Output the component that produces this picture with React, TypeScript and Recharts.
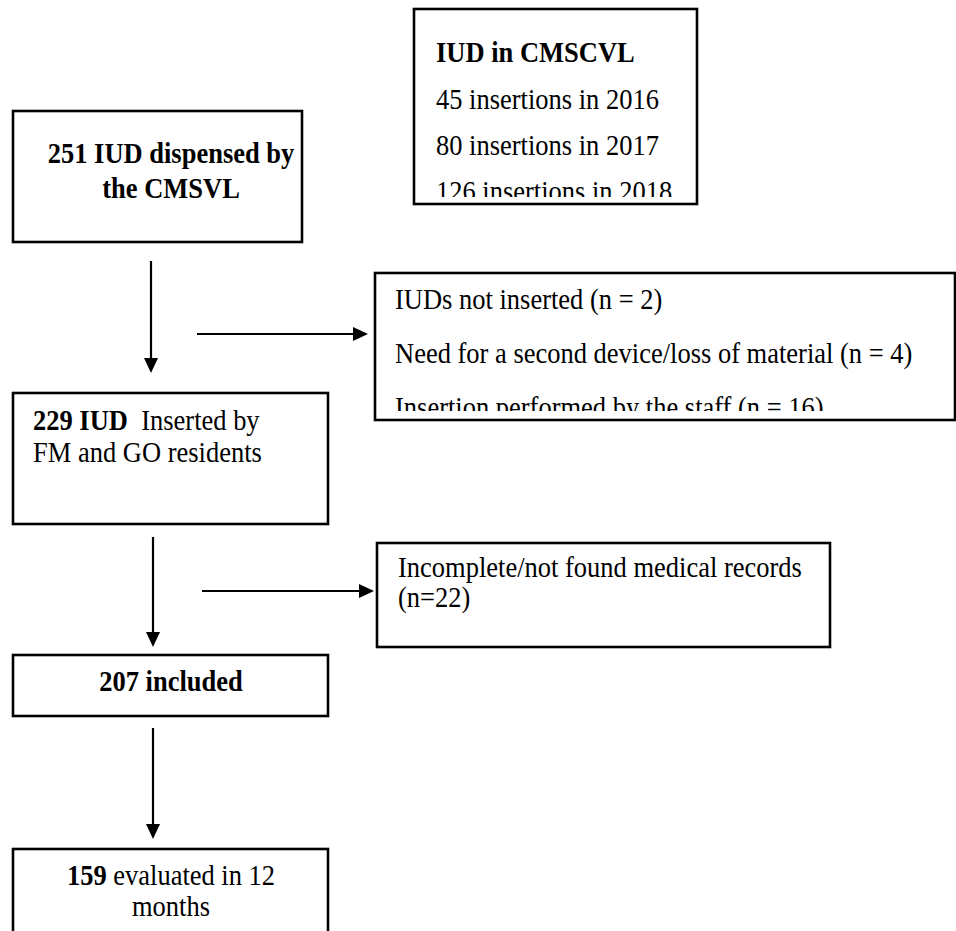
import React from 'react';
import { ScatterChart, Scatter, XAxis, YAxis, ReferenceArea, ReferenceLine } from 'recharts';

// flow counts
const stageCounts = [251, 229, 207, 159];
const years = [2016, 2017, 2018];
const insertionsPerYear = [45, 80, 126];
const exclusionReasons = [
    'IUDs not inserted',
    'Need for a second device/loss of material',
    'Insertion performed by the staff',
];
const exclusionCounts = [2, 4, 16];
const missingRecordsCount = 22;

const W = 956;
const H = 931;
const FONT = "'Liberation Serif', 'Times New Roman', serif";
const FS = 26.5;
const STRETCH = 1.12; // the scanned text is a little taller than wide

type Seg = { t: string; b?: boolean };
type Line = { segs: Seg[]; x: number; y: number; anchor?: 'start' | 'middle' };
type Box = { id: string; x1: number; x2: number; y1: number; y2: number; clipY?: number; lines: Line[] };

const cmscvlRows = [109, 155, 201];
const exclusionRows = [309, 363, 417];

const boxes: Box[] = [
    {
        id: 'cmscvl', x1: 414, x2: 697, y1: 9, y2: 204, clipY: 197,
        lines: [
            { segs: [{ t: 'IUD in CMSCVL', b: true }], x: 436, y: 62 },
            ...years.map((yr, i) => ({
                segs: [{ t: `${insertionsPerYear[i]} insertions in ${yr}` }], x: 436, y: cmscvlRows[i],
            })),
        ],
    },
    {
        id: 'dispensed', x1: 13, x2: 302, y1: 111, y2: 242,
        lines: [
            { segs: [{ t: `${stageCounts[0]} IUD dispensed by`, b: true }], x: 171, y: 163, anchor: 'middle' },
            { segs: [{ t: 'the CMSVL', b: true }], x: 171, y: 198, anchor: 'middle' },
        ],
    },
    {
        id: 'excluded', x1: 375, x2: 955, y1: 273, y2: 420, clipY: 411,
        lines: exclusionReasons.map((r, i) => ({
            segs: [{ t: `${r} (n = ${exclusionCounts[i]})` }], x: 395, y: exclusionRows[i],
        })),
    },
    {
        id: 'inserted', x1: 13, x2: 328, y1: 393, y2: 524,
        lines: [
            { segs: [{ t: `${stageCounts[1]} IUD`, b: true }, { t: '  Inserted by' }], x: 33, y: 430 },
            { segs: [{ t: 'FM and GO residents' }], x: 33, y: 462 },
        ],
    },
    {
        id: 'missing', x1: 377, x2: 830, y1: 543, y2: 647,
        lines: [
            { segs: [{ t: 'Incomplete/not found medical records' }], x: 398, y: 577 },
            { segs: [{ t: `(n=${missingRecordsCount})` }], x: 398, y: 607 },
        ],
    },
    {
        id: 'included', x1: 13, x2: 328, y1: 655, y2: 716,
        lines: [{ segs: [{ t: `${stageCounts[2]} included`, b: true }], x: 171, y: 691, anchor: 'middle' }],
    },
    {
        id: 'evaluated', x1: 13, x2: 328, y1: 849, y2: 945,
        lines: [
            { segs: [{ t: `${stageCounts[3]}`, b: true }, { t: ' evaluated in 12' }], x: 171, y: 885, anchor: 'middle' },
            { segs: [{ t: 'months' }], x: 171, y: 916, anchor: 'middle' },
        ],
    },
];

// arrows: shaft start and tip
const arrows = [
    { x1: 151, y1: 261, x: 151, y: 373, dir: 'down' },
    { x1: 197, y1: 334, x: 368, y: 334, dir: 'right' },
    { x1: 153, y1: 537, x: 153, y: 647, dir: 'down' },
    { x1: 202, y1: 591, x: 374, y: 591, dir: 'right' },
    { x1: 153, y1: 728, x: 153, y: 839, dir: 'down' },
];
const HEAD = 15;
const HALF = 7;

const makeBoxShape = (box: Box) => (p: any) => {
    const left = Math.min(p.x, p.x + p.width);
    const top = Math.min(p.y, p.y + p.height);
    const w = Math.abs(p.width);
    const h = Math.abs(p.height);
    const sx = w / (box.x2 - box.x1);
    const sy = h / (box.y2 - box.y1);
    const px = (v: number) => left + (v - box.x1) * sx;
    const py = (v: number) => top + (v - box.y1) * sy;
    const clipBottom = box.clipY != null ? py(box.clipY) : top + h;
    const clipId = `clip-${box.id}`;
    return (
        <g>
            <defs>
                <clipPath id={clipId}>
                    <rect x={left + 1} y={top + 1} width={w - 2} height={clipBottom - top - 1} />
                </clipPath>
            </defs>
            <rect x={left} y={top} width={w} height={h} fill="#fff" stroke="#000" strokeWidth={2.6} />
            <g clipPath={`url(#${clipId})`}>
                {box.lines.map((ln, i) => (
                    <text
                        key={i}
                        x={0}
                        y={0}
                        transform={`translate(${px(ln.x)},${py(ln.y)}) scale(1,${STRETCH})`}
                        textAnchor={ln.anchor || 'start'}
                        fontFamily={FONT}
                        fontSize={FS}
                        fill="#000"
                        style={{ whiteSpace: 'pre' }}
                    >
                        {ln.segs.map((s, j) => (
                            <tspan key={j} fontWeight={s.b ? 'bold' : 'normal'}>{s.t}</tspan>
                        ))}
                    </text>
                ))}
            </g>
        </g>
    );
};

const ArrowHead = (props: any) => {
    const { cx, cy, payload } = props;
    const pts = payload.dir === 'down'
        ? `${cx - HALF},${cy - HEAD} ${cx + HALF},${cy - HEAD} ${cx},${cy}`
        : `${cx - HEAD},${cy - HALF} ${cx - HEAD},${cy + HALF} ${cx},${cy}`;
    return <polygon points={pts} fill="#000" />;
};

const App: React.FC = () => {
    return (
        <div style={{ position: 'absolute', left: 0, top: 0, width: W, height: H, background: '#fff' }}>
            <ScatterChart width={W} height={H} margin={{ top: 0, right: 0, bottom: 0, left: 0 }}>
                <XAxis type="number" dataKey="x" domain={[0, W]} allowDataOverflow hide />
                <YAxis type="number" dataKey="y" domain={[0, H]} reversed allowDataOverflow hide />
                {boxes.map((b) => (
                    <ReferenceArea
                        key={b.id}
                        x1={b.x1}
                        x2={b.x2}
                        y1={b.y1}
                        y2={b.y2}
                        ifOverflow="visible"
                        shape={makeBoxShape(b)}
                    />
                ))}
                {arrows.map((a, i) => (
                    <ReferenceLine
                        key={i}
                        segment={[
                            { x: a.x1, y: a.y1 },
                            a.dir === 'down' ? { x: a.x, y: a.y - HEAD + 1 } : { x: a.x - HEAD + 1, y: a.y },
                        ]}
                        stroke="#000"
                        strokeWidth={2.2}
                        ifOverflow="visible"
                    />
                ))}
                <Scatter data={arrows} shape={<ArrowHead />} isAnimationActive={false} legendType="none" />
            </ScatterChart>
        </div>
    );
};

export default App;
